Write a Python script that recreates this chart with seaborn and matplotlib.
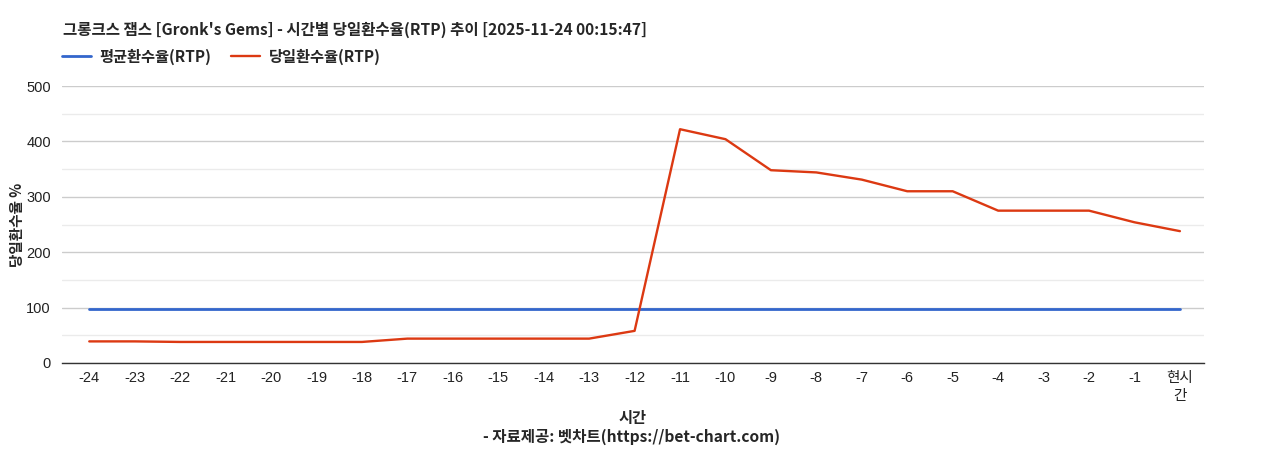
import matplotlib
matplotlib.use("Agg")
import matplotlib.pyplot as plt
import seaborn as sns
import pandas as pd
from matplotlib.ticker import MultipleLocator

hours = ["-24", "-23", "-22", "-21", "-20", "-19", "-18", "-17", "-16", "-15", "-14", "-13",
         "-12", "-11", "-10", "-9", "-8", "-7", "-6", "-5", "-4", "-3", "-2", "-1", "현시\n간"]
daily_rtp = [39, 39, 38, 38, 38, 38, 38, 44, 44, 44, 44, 44,
             58, 422, 404, 348, 344, 331, 310, 310, 275, 275, 275, 254, 238]
avg_rtp = [97] * len(hours)

title = "그롱크스 잼스 [Gronk's Gems] - 시간별 당일환수율(RTP) 추이 [2025-11-24 00:15:47]"
label_avg = "평균환수율(RTP)"
label_daily = "당일환수율(RTP)"

sns.set_theme(style="white")
plt.rcParams['font.family'] = ['Noto Sans CJK KR', 'DejaVu Sans']

df = pd.DataFrame({"x": list(range(len(hours))), "avg": avg_rtp, "daily": daily_rtp})

fig = plt.figure(figsize=(12.68, 4.5), dpi=100)
ax = fig.add_axes([62/1268, 1-363/450, (1204-62)/1268, (363-86)/450])

sns.lineplot(data=df, x="x", y="avg", ax=ax, color="#3366cc", linewidth=2.0, label=label_avg)
sns.lineplot(data=df, x="x", y="daily", ax=ax, color="#dc3912", linewidth=1.7, label=label_daily)

ax.set_xlim(-0.6, len(hours) - 0.47)
ax.set_ylim(0, 500)
ax.yaxis.set_major_locator(MultipleLocator(100))
ax.yaxis.set_minor_locator(MultipleLocator(50))
ax.grid(which="major", axis="y", color="#cccccc", linewidth=1)
ax.grid(which="minor", axis="y", color="#ebebeb", linewidth=1)
ax.set_axisbelow(True)
for s in ["top", "right", "left"]:
    ax.spines[s].set_visible(False)
ax.spines["bottom"].set_color("#333333")
ax.spines["bottom"].set_linewidth(1)

ax.set_xticks(range(len(hours)))
ax.set_xticklabels(hours, family=['Liberation Sans', 'Noto Sans CJK KR'], fontsize=10.5, color="#222222",
                   linespacing=1.35)
for t in ax.get_yticklabels():
    t.set_family(['Liberation Sans', 'Noto Sans CJK KR'])
    t.set_fontsize(10.5)
    t.set_color("#222222")
ax.tick_params(axis="both", length=0, pad=6)
ax.tick_params(axis="y", pad=8)

ax.set_xlabel("시간", fontsize=11, fontweight="bold", labelpad=5)
ax.set_ylabel("당일환수율 %", fontsize=10.5, fontweight="bold", labelpad=1)

fig.text(63/1268, 1-30/450, title, fontsize=11.2, fontweight="bold", va="center", ha="left")
fig.text(632/1268, 1-437/450, "- 자료제공: 벳차트(https://bet-chart.com)", fontsize=11.2, fontweight="bold",
         va="center", ha="center")

leg = ax.legend(loc="lower left", bbox_to_anchor=(62/1268, 1-65/450), bbox_transform=fig.transFigure,
                ncol=2, frameon=False, prop={"weight": "bold", "size": 11}, handlelength=1.9,
                handletextpad=0.55, columnspacing=1.3, borderaxespad=0, borderpad=0)

fig.savefig("out.png", dpi=100, facecolor="white")
